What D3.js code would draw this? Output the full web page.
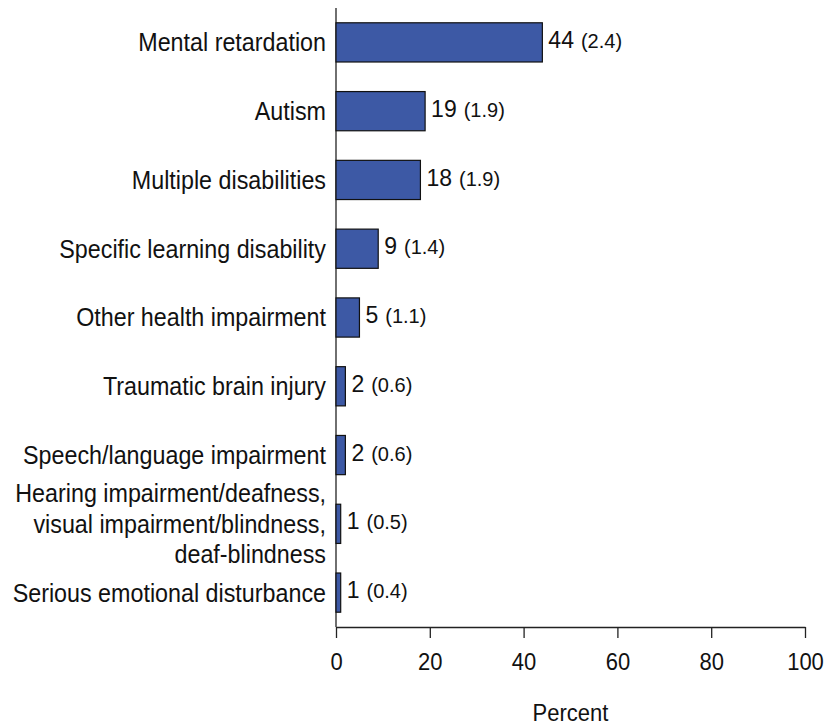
<!DOCTYPE html>
<html><head><meta charset="utf-8">
<script src="https://cdn.jsdelivr.net/npm/d3@7"></script>
<style>body{margin:0;background:#fff}svg{display:block}text{font-family:"Liberation Sans",Arial,sans-serif;fill:#111}</style>
</head><body>
<script>
const categories = [
  ["Mental retardation"],
  ["Autism"],
  ["Multiple disabilities"],
  ["Specific learning disability"],
  ["Other health impairment"],
  ["Traumatic brain injury"],
  ["Speech/language impairment"],
  ["Hearing impairment/deafness,","visual impairment/blindness,","deaf-blindness"],
  ["Serious emotional disturbance"]
];
const values = [44,19,18,9,5,2,2,1,1];
const stdErrors = ["2.4","1.9","1.9","1.4","1.1","0.6","0.6","0.5","0.4"];
const xTicks = [0,20,40,60,80,100];

const W=827,H=728, SY=1.1;
const svg=d3.select("body").append("svg").attr("width",W).attr("height",H);
const x=d3.scaleLinear().domain([0,100]).range([336,805]);
const y=d3.scaleBand().domain(d3.range(categories.length)).range([8,627]).paddingInner(0.43).paddingOuter(0.215);

svg.append("g").attr("transform","translate(0,627)")
  .call(d3.axisBottom(x).tickValues(xTicks).tickSize(11).tickSizeOuter(0))
  .call(g=>{g.select(".domain").attr("stroke","#222").attr("stroke-width",1.3);
    g.selectAll(".tick line").attr("stroke","#222").attr("stroke-width",1.3);
    g.selectAll("text").attr("font-size",22).attr("font-family","Liberation Sans, Arial, sans-serif").attr("fill","#111")
      .attr("y",0).attr("dy","0.35em").attr("transform",`translate(0,35) scale(1,${SY})`);});

svg.append("line").attr("x1",336).attr("x2",336).attr("y1",8).attr("y2",627).attr("stroke","#222").attr("stroke-width",1.3);

svg.selectAll("rect.bar").data(values).enter().append("rect").attr("class","bar")
  .attr("x",x(0)).attr("y",(d,i)=>y(i)).attr("width",d=>x(d)-x(0)).attr("height",y.bandwidth())
  .attr("fill","#3d59a5").attr("stroke","#111").attr("stroke-width",1.2);

const lab=svg.selectAll("text.vl").data(values).enter().append("text").attr("class","vl")
  .attr("x",d=>x(d)+6).attr("y",(d,i)=>y(i)+y.bandwidth()/2).attr("dy","0.35em");
lab.append("tspan").attr("font-size",23).text(d=>d);
lab.append("tspan").attr("font-size",20).attr("dx",7).text((d,i)=>"("+stdErrors[i]+")");

categories.forEach((lines,i)=>{
  const cy=y(i)+y.bandwidth()/2, lh=30.5;
  lines.forEach((l,j)=>{
    svg.append("text").attr("text-anchor","end").attr("font-size",23.3)
      .attr("transform",`translate(326,${cy+(j-(lines.length-1)/2)*lh}) scale(1,${SY})`)
      .attr("dy","0.35em").text(l);
  });
});

svg.append("text").attr("transform",`translate(${x(50)},713) scale(1,${SY})`).attr("dy","0.35em").attr("text-anchor","middle").attr("font-size",22).text("Percent");
</script>
</body></html>
